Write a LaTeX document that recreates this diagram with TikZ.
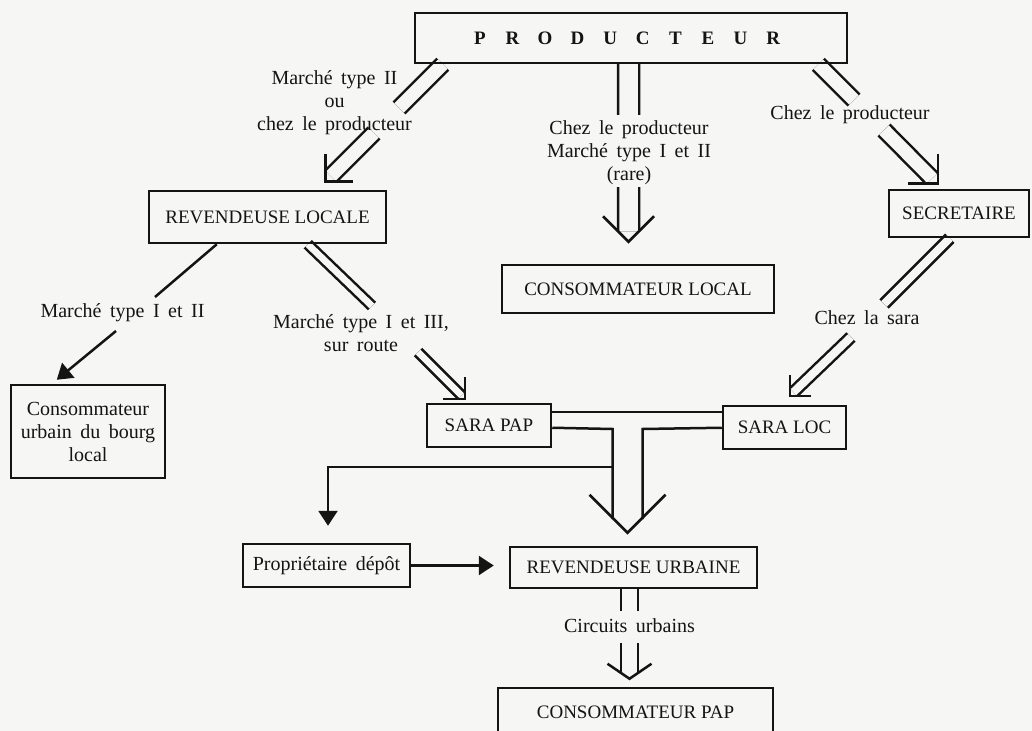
\documentclass[tikz,border=0pt]{standalone}
\usepackage{fontspec}
\setmainfont{Liberation Serif}
\newfontfamily\lblfont{Liberation Serif}[WordSpace=1.7]
\usetikzlibrary{calc,arrows.meta}
\definecolor{paper}{RGB}{246,246,244}
\definecolor{ink}{RGB}{20,20,20}

\pgfdeclarelayer{sheet}
\pgfdeclarelayer{flows}
\pgfsetlayers{sheet,flows,main}

\tikzset{
  box/.style={draw=ink, line width=2.5bp, inner sep=0pt, align=center, text=ink,
    font=\fontsize{19bp}{23bp}\selectfont},
  lowbox/.style={box, font=\lblfont\fontsize{20bp}{23bp}\selectfont},
  lbl/.style={inner sep=0pt, align=center, text=ink,
    font=\lblfont\fontsize{20bp}{23bp}\selectfont},
  conn/.style={draw=ink, line width=2.5bp, line cap=butt},
  dbl/.style={conn, double=paper, double distance=#1},
  wing/.style={conn, line join=miter},
  solidtip/.style={conn, -{Triangle[length=15bp,width=19bp]}},
}
\newcommand{\spl}[1]{\makebox[32.6bp]{#1}}

\begin{document}
\begin{tikzpicture}[x=1bp,y=-1bp]
\useasboundingbox (0,0) rectangle (1032,731);
\begin{pgfonlayer}{sheet}
  \fill[paper] (0,0) rectangle (1032,731);
\end{pgfonlayer}
\clip (0,0) rectangle (1032,731);

% ---------- boxes ----------
\node[box, minimum width=432bp, minimum height=50bp] (prod) at (631,38)
  {\bfseries\spl{P}\spl{R}\spl{O}\spl{D}\spl{U}\spl{C}\spl{T}\spl{E}\spl{U}\spl{R}\hspace*{9bp}};
\node[box, minimum width=237bp, minimum height=52bp] (revloc) at (267.5,217) {REVENDEUSE LOCALE};
\node[box, minimum width=272bp, minimum height=48bp] (conslocal) at (638,289) {CONSOMMATEUR LOCAL};
\node[box, minimum width=140bp, minimum height=47bp] (sec) at (959,213.5) {SECRETAIRE};
\node[lowbox, minimum width=154bp, minimum height=93bp] (consbourg) at (88,431.5)
  {Consommateur\\urbain du bourg\\local};
\node[box, minimum width=124bp, minimum height=43bp] (sarapap) at (489,425.5) {SARA PAP};
\node[box, minimum width=123bp, minimum height=43bp] (saraloc) at (784.5,427.5) {SARA LOC};
\node[lowbox, minimum width=167bp, minimum height=43bp] (prop) at (326.5,565.5) {Propriétaire dépôt};
\node[box, minimum width=247bp, minimum height=41bp] (revurb) at (633.5,567.5) {REVENDEUSE URBAINE};
\node[box, minimum width=275bp, minimum height=48bp] (conspap) at (635.5,712) {CONSOMMATEUR PAP};

% ---------- labels on the flows ----------
\node[lbl] (lA) at (334.5,103) {Marché type II\\ou\\chez le producteur};
\node[lbl] (lB) at (629,153) {Chez le producteur\\Marché type I et II\\(rare)};
\node[lbl] (lC) at (850,115) {Chez le producteur};
\node[lbl] (lD) at (122.5,313) {Marché type I et II};
\node[lbl] (lE) at (361,333) {Marché type I et III,\\sur route};
\node[lbl] (lF) at (867,318) {Chez la sara};
\node[lbl] (lI) at (629.5,626) {Circuits urbains};

\begin{pgfonlayer}{flows}
% ---------- producteur -> revendeuse locale ----------
\coordinate (a0) at ($(prod.south west)+(29,0)$);
\coordinate (a1) at (399,108);
\coordinate (a2) at (374,133);
\coordinate (aT) at ($(revloc.north east)+(-62,-8)$);
\draw[dbl=13.1bp] (a0) -- (a1);
\draw[dbl=13.1bp, shorten >=7.8bp] (a2) -- (aT);
\draw[wing] ($(aT)+(0,-28)$) -- (aT) -- ($(aT)+(28,0)$);

% ---------- producteur -> consommateur local ----------
\coordinate (b0) at ($(prod.south)+(-2.5,0)$);
\coordinate (b1) at (628.5,115);
\coordinate (b2) at (628.5,187);
\coordinate (bT) at ($(conslocal.north)+(-9.5,-22)$);
\draw[dbl=18.5bp] (b0) -- (b1);
\draw[dbl=18.5bp, shorten >=10.5bp] (b2) -- (bT);
\draw[wing] ($(bT)+(-25.5,-25.5)$) -- (bT) -- ($(bT)+(25.5,-25.5)$);

% ---------- producteur -> secretaire ----------
\coordinate (c0) at ($(prod.south east)+(-30,0)$);
\coordinate (c1) at (854,100);
\coordinate (c2) at (884,130);
\coordinate (cT) at ($(sec.north west)+(50,-5)$);
\draw[dbl=13.1bp] (c0) -- (c1);
\draw[dbl=13.1bp, shorten >=7.8bp] (c2) -- (cT);
\draw[wing] ($(cT)+(0,-30)$) -- (cT) -- ($(cT)+(-30,0)$);

% ---------- revendeuse locale -> consommateur du bourg ----------
\coordinate (d0) at ($(revloc.south west)+(69,0)$);
\coordinate (d1) at (155,297);
\coordinate (d2) at (116,331);
\coordinate (dT) at ($(consbourg.north west)+(47,-4)$);
\draw[conn] (d0) -- (d1);
\draw[solidtip] (d2) -- (dT);

% ---------- revendeuse locale -> sara pap ----------
\coordinate (e0) at ($(revloc.south west)+(160,0)$);
\coordinate (e1) at (372,306);
\coordinate (e2) at (418,352);
\coordinate (eT) at ($(sarapap.north west)+(39,-4)$);
\draw[dbl=6.7bp] (e0) -- (e1);
\draw[dbl=6.7bp, shorten >=4.6bp] (e2) -- (eT);
\draw[wing] ($(eT)+(0,-22)$) -- (eT) -- ($(eT)+(-22,0)$);

% ---------- secretaire -> sara loc ----------
\coordinate (f0) at ($(sec.south west)+(62,0)$);
\coordinate (f1) at (884,304);
\coordinate (f2) at (851,337);
\coordinate (fT) at ($(saraloc.north west)+(68,-9)$);
\draw[dbl=8.1bp] (f0) -- (f1);
\draw[dbl=8.1bp, shorten >=5.3bp] (f2) -- (fT);
\draw[wing] ($(fT)+(0,-21)$) -- (fT) -- ($(fT)+(21,0)$);

% ---------- sara pap / sara loc -> revendeuse urbaine ----------
\coordinate (g0) at ($(sarapap.north east)+(0,9)$);
\coordinate (g1) at ($(saraloc.north west)+(0,7)$);
\coordinate (g2) at ($(sarapap.north east)+(0,25)$);
\coordinate (g3) at (612.5,429);
\coordinate (g5) at ($(saraloc.north west)+(0,23)$);
\coordinate (g6) at (642.5,429);
\coordinate (gT) at ($(revurb.north)+(-6,-13)$);
\coordinate (g4) at (612.5,519);
\coordinate (g7) at (642.5,519);
\draw[conn] (g0) -- (g1);
\draw[conn, line join=miter] (g2) -- (g3) -- (g4);
\draw[conn, line join=miter] (g5) -- (g6) -- (g7);
\draw[wing] ($(gT)+(-38,-38)$) -- (gT) -- ($(gT)+(38,-38)$);

% branch towards the depot owner
\coordinate (g8) at (612.5,467);
\coordinate (pT) at ($(prop.north)+(1.5,-17)$);
\draw[solidtip, line join=miter] (g8) -| (pT);

% ---------- proprietaire depot -> revendeuse urbaine ----------
\coordinate (hT) at ($(revurb.west)+(-15,-2)$);
\draw[solidtip] (prop.east) -- (hT);

% ---------- revendeuse urbaine -> consommateur pap ----------
\coordinate (i0) at ($(revurb.south)+(-4,0)$);
\coordinate (i1) at (629.5,611);
\coordinate (i2) at (629.5,643);
\coordinate (iT) at ($(conspap.north)+(-6,-8)$);
\draw[dbl=14.5bp] (i0) -- (i1);
\draw[dbl=14.5bp, shorten >=5.8bp] (i2) -- (iT);
\draw[wing] ($(iT)+(-22,-15)$) -- (iT) -- ($(iT)+(22,-15)$);
\end{pgfonlayer}
\end{tikzpicture}
\end{document}
